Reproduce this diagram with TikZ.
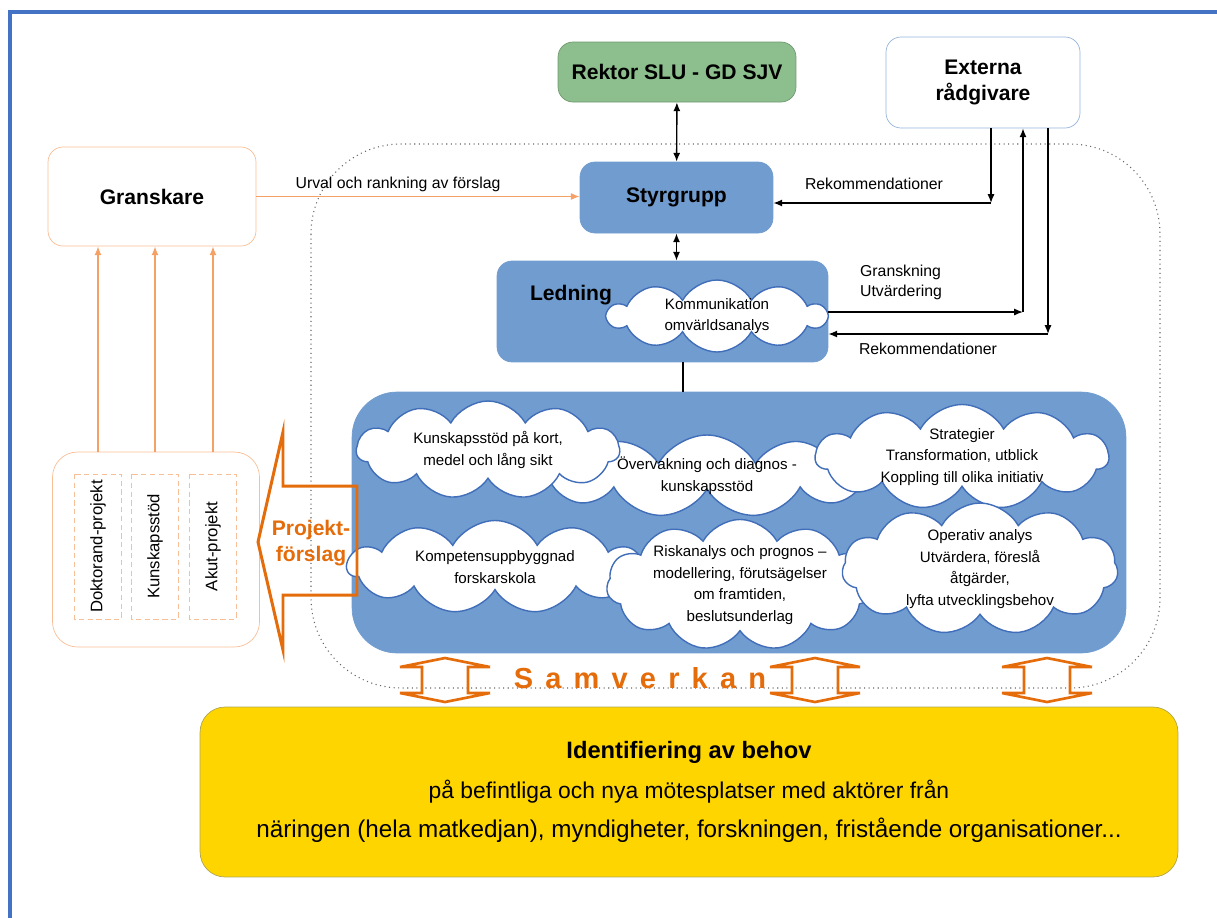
\documentclass[tikz,border=0pt]{standalone}
\usepackage{fontspec}
\setmainfont{Liberation Sans}
\newfontfamily\spacedfont[LetterSpace=42]{Liberation Sans}
\usepackage{tikz}
\usetikzlibrary{shapes.symbols,arrows.meta}

\definecolor{framecol}{RGB}{68,114,196}
\definecolor{boxblue}{RGB}{112,156,207}
\definecolor{cloudline}{RGB}{65,110,185}
\definecolor{rektgreen}{RGB}{141,190,141}
\definecolor{extline}{RGB}{150,180,220}
\definecolor{lightorange}{RGB}{248,190,150}
\definecolor{arroworange}{RGB}{245,160,100}
\definecolor{darkorange}{RGB}{228,108,10}
\definecolor{needyellow}{RGB}{255,213,0}
\definecolor{needline}{RGB}{175,165,80}

\begin{document}
\begin{tikzpicture}[
		x=0.02cm, y=-0.02cm
		,org/.style={rounded corners=0.3cm, font=\fontsize{12}{15}\selectfont\bfseries, align=center}
		,steer/.style={org, draw=boxblue, fill=boxblue}
		,cl/.style={draw=cloudline, line width=0.8pt, fill=white, cloud, cloud puffs=11, cloud puff arc=122, cloud ignores aspect, align=center, inner sep=-3pt, font=\fontsize{8.6}{12.3}\selectfont}
		,conn/.style={-{Latex[length=5pt,width=4pt]}, line width=0.8pt}
		,dconn/.style={{Latex[length=5pt,width=4pt]}-{Latex[length=5pt,width=4pt]}, line width=0.8pt}
		,oconn/.style={draw=arroworange, -{Latex[length=5pt,width=4pt]}, line width=0.8pt}
		,lbl/.style={font=\fontsize{9}{11.3}\selectfont}
		,projtype/.style={draw=lightorange, dash pattern=on 3pt off 2pt, rotate=90, minimum width=2.9cm, minimum height=0.94cm, font=\fontsize{9.5}{11}\selectfont}
	]
		\useasboundingbox (0,0) rectangle (1217,917);
		\draw[framecol, line width=2.2pt] (1240,12) -- (10,12) -- (10,940);

		% samverkan area
		\draw[gray!80!black, dotted, line width=0.6pt, rounded corners=1.8cm] (311,144) rectangle (1160,688);

		\node[org, draw=rektgreen!80!black, fill=rektgreen, minimum width=4.76cm, minimum height=1.2cm] (rek) at (677,72) {Rektor SLU - GD SJV};
		\node[org, draw=extline, fill=white, minimum width=3.88cm, minimum height=1.82cm] (ext) at (983,82.5) {Externa\\rådgivare};
		\node[org, draw=lightorange, fill=white, minimum width=4.16cm, minimum height=1.98cm] (gransk) at (152,196.5) {Granskare};
		\node[steer, minimum width=3.86cm, minimum height=1.42cm] (styr) at (676.5,197.5) {Styrgrupp};
		\node[steer, minimum width=6.62cm, minimum height=2.02cm] (led) at (662.5,311.5) {};
		\node[org] (ledtxt) at (571,295) {Ledning};
		\node[cl, cloud puffs=10, minimum width=4.36cm, minimum height=1.44cm] (komm) at (717,316) {Kommunikation\\omvärldsanalys};

		\node[steer, rounded corners=0.9cm, minimum width=15.48cm, minimum height=5.22cm] (work) at (739,522.5) {};
		\node[cl, minimum width=6.7cm, minimum height=1.64cm] (overv) at (707,476) {Övervakning och diagnos -\\kunskapsstöd};
		\node[cl, minimum width=5.26cm, minimum height=1.96cm] (kort) at (488,450) {Kunskapsstöd på kort,\\medel och lång sikt};
		\node[cl, minimum width=5.86cm, minimum height=2.1cm] (strat) at (962,457) {Strategier\\Transformation, utblick\\Koppling till olika initiativ};
		\node[cl, minimum width=5.9cm, minimum height=1.86cm] (komp) at (495,567) {Kompetensuppbyggnad\\forskarskola};
		\node[cl, minimum width=5.34cm, minimum height=2.48cm] (risk) at (740,585) {Riskanalys och prognos –\\modellering, förutsägelser\\om framtiden,\\beslutsunderlag};
		\node[cl, minimum width=5.52cm, minimum height=2.64cm] (oper) at (980,569) {Operativ analys\\Utvärdera, föreslå\\åtgärder,\\lyfta utvecklingsbehov};

		% project proposals
		\node[org, draw=lightorange, rounded corners=0.5cm, minimum width=4.14cm, minimum height=3.9cm] (proj) at (156,549.5) {};
		\node[projtype] (d1) at (98,546.5) {Doktorand-projekt};
		\node[projtype] (d2) at (155,546.5) {Kunskapsstöd};
		\node[projtype] (d3) at (213,546.5) {Akut-projekt};
		\draw[darkorange, line width=1.7pt] (357,486) -- (283,486) -- (283,432) -- (258,542) -- (283,650) -- (283,595) -- (357,595) -- cycle;
		\node[org, text=darkorange, font=\fontsize{12}{15}\selectfont\bfseries] (pf) at (311,543) {Projekt-\\förslag};

		\node[draw=needline, fill=needyellow, rounded corners=0.5cm, minimum width=19.56cm, minimum height=3.4cm, align=center, font=\fontsize{13}{22.7}\selectfont] (behov) at (689,792)
			{{\fontsize{13.5}{16}\selectfont\bfseries Identifiering av behov}\\på befintliga och nya mötesplatser med aktörer från\\{\fontsize{13.8}{16}\selectfont näringen (hela matkedjan), myndigheter, forskningen, fristående organisationer...}};

		\node[text=darkorange, font=\fontsize{16.5}{20}\spacedfont\bfseries] (samv) at (640,678) {Samverkan};
		\foreach \x in {445,815,1047}
			\draw[darkorange, line width=1.5pt] (\x,658) -- (\x+45,667) -- (\x+23,667) -- (\x+23,693) -- (\x+45,693) -- (\x,702) -- (\x-45,693) -- (\x-23,693) -- (\x-23,667) -- (\x-45,667) -- cycle;

		% connectors
		\coordinate (r1) at (991,203);
		\coordinate (g1) at (1023,312);
		\coordinate (r2) at (1048,334);
		\coordinate (lw) at (683,0);

		\draw[dconn] (rek) -- (styr);
		\draw[dconn] (styr.south) -- (styr.south |- led.north);
		\draw[line width=0.8pt] (led.south -| lw) -- (work.north -| lw);
		\draw[oconn] (gransk.east) -- (styr.west |- gransk.east);
		\draw[conn] (r1 |- ext.south) -- (r1);
		\draw[conn] (r1) -- (styr.east |- r1);
		\draw[conn] (led.east |- g1) -- (g1);
		\draw[conn] (g1) -- (g1 |- ext.south);
		\draw[conn] (r2 |- ext.south) -- (r2);
		\draw[conn] (r2) -- (led.east |- r2);
		\draw[oconn] (proj.north -| d1) -- (gransk.south -| d1);
		\draw[oconn] (proj.north -| d2) -- (gransk.south -| d2);
		\draw[oconn] (proj.north -| d3) -- (gransk.south -| d3);

		\node[lbl] (urv) at (398,184) {Urval och rankning av förslag};
		\node[lbl] (rek1) at (874,184) {Rekommendationer};
		\node[lbl, align=left] (gu) at (901,282) {Granskning\\Utvärdering};
		\node[lbl] (rek2) at (928,349) {Rekommendationer};
	\end{tikzpicture}
\end{document}
